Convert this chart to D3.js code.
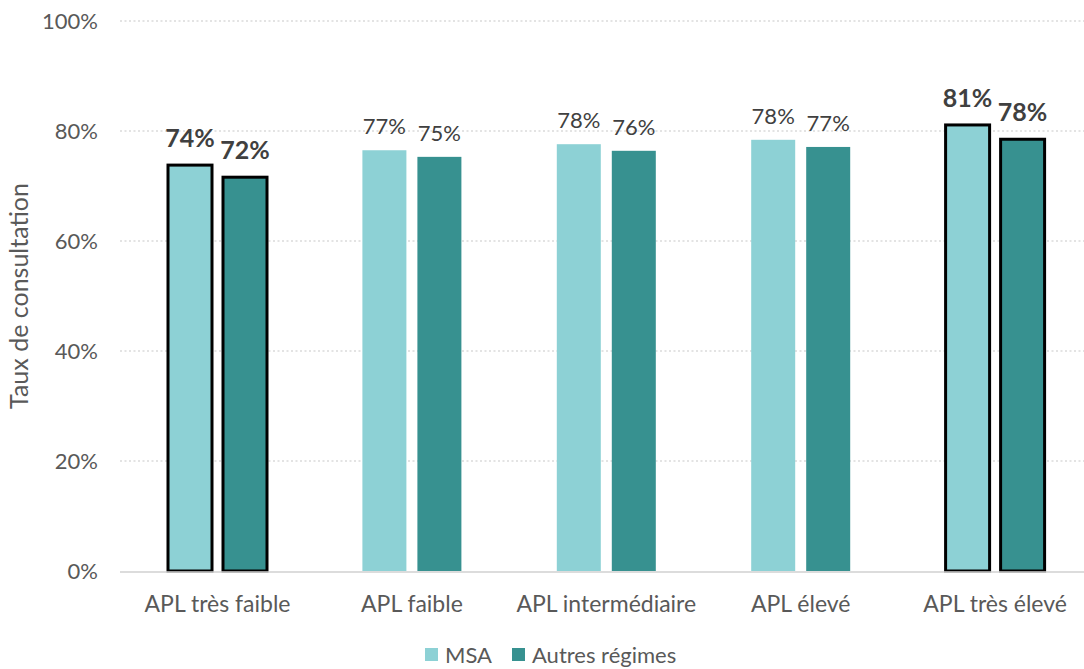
<!DOCTYPE html>
<html><head><meta charset="utf-8">
<script src="https://cdn.jsdelivr.net/npm/d3@7"></script>
<style>body{margin:0;background:#fff;}svg{display:block;font-family:Lato,"Open Sans","Liberation Sans",sans-serif;}</style>
</head><body><svg id="c" width="1084" height="669"></svg>
<script>
const categories = ["APL très faible","APL faible","APL intermédiaire","APL élevé","APL très élevé"];
const seriesNames = ["MSA","Autres régimes"];
const msa = [73.8, 76.5, 77.6, 78.4, 81.1];
const autres = [71.6, 75.3, 76.4, 77.1, 78.5];
const msaLabels = ["74%","77%","78%","78%","81%"];
const autresLabels = ["72%","75%","76%","77%","78%"];
const highlighted = [true,false,false,false,true];
const yTicks = [0,20,40,60,80,100];
const colors = ["#8DD1D5","#379190"];

const svg = d3.select("#c");
const x = d3.scaleBand().domain(categories).range([120.3,1092.3]).paddingInner(0).paddingOuter(0);
const y = d3.scaleLinear().domain([0,100]).range([571,21]);

// gridlines
svg.append("g").selectAll("line").data(yTicks.filter(d=>d>0)).join("line")
  .attr("x1",120).attr("x2",1084).attr("y1",d=>y(d)).attr("y2",d=>y(d))
  .attr("stroke","#c8c8c8").attr("stroke-width",1.2).attr("stroke-dasharray","2,2.5");

// y axis labels
const yAxis = d3.axisLeft(y).tickValues(yTicks).tickFormat(d=>d+"%").tickSize(0).tickPadding(0);
const ya = svg.append("g").attr("transform","translate(98,0)").call(yAxis).attr("font-family",null).attr("font-size",null);
ya.select(".domain").remove();
ya.selectAll("text").attr("font-size",22).attr("fill","#595959").attr("dy","0.35em");

// y title
svg.append("text").attr("transform","translate(28,296) rotate(-90)").attr("text-anchor","middle")
  .attr("font-size",25).attr("fill","#595959").text("Taux de consultation");

const bw = 44, gap = 11;
const sub = d3.scaleOrdinal().domain([0,1]).range([-(gap/2+bw), gap/2]);
const data = [];
categories.forEach((c,i)=>{
  data.push({c, s:0, v:msa[i], lab:msaLabels[i], hl:highlighted[i]});
  data.push({c, s:1, v:autres[i], lab:autresLabels[i], hl:highlighted[i]});
});
const cx = d=> x(d.c)+x.bandwidth()/2 + sub(d.s);

// bars
svg.append("g").selectAll("rect").data(data).join("rect")
  .attr("x",d=>cx(d)).attr("width",bw)
  .attr("y",d=>y(d.v)).attr("height",d=>y(0)-y(d.v))
  .attr("fill",d=>colors[d.s])
  .attr("stroke",d=>d.hl?"#000":"none").attr("stroke-width",3);

// baseline
svg.append("line").attr("x1",120).attr("x2",1084).attr("y1",y(0)+1).attr("y2",y(0)+1)
  .attr("stroke","#d0d0d0").attr("stroke-width",1.5);

// value labels
svg.append("g").selectAll("text").data(data).join("text")
  .attr("x",d=>cx(d)+bw/2).attr("y",d=>y(d.v)-(d.hl?18:16))
  .attr("text-anchor","middle")
  .attr("font-size",d=>d.hl?25:22).attr("font-weight",d=>d.hl?"bold":"normal")
  .attr("fill","#404040").text(d=>d.lab);

// x axis labels
const xAxis = d3.axisBottom(x).tickSize(0).tickPadding(0);
const xa = svg.append("g").attr("transform","translate(0,612)").call(xAxis).attr("font-family",null).attr("font-size",null);
xa.select(".domain").remove();
xa.selectAll("text").attr("font-size",23).attr("fill","#595959").attr("dy","0");

// legend
const leg = svg.append("g");
const legItems = [{n:seriesNames[0],x:425},{n:seriesNames[1],x:512}];
legItems.forEach((it,i)=>{
  leg.append("rect").attr("x",it.x).attr("y",648).attr("width",13).attr("height",13).attr("fill",colors[i]);
  leg.append("text").attr("x",it.x+20).attr("y",663).attr("font-size",22).attr("fill","#595959").text(it.n);
});
</script></body></html>
